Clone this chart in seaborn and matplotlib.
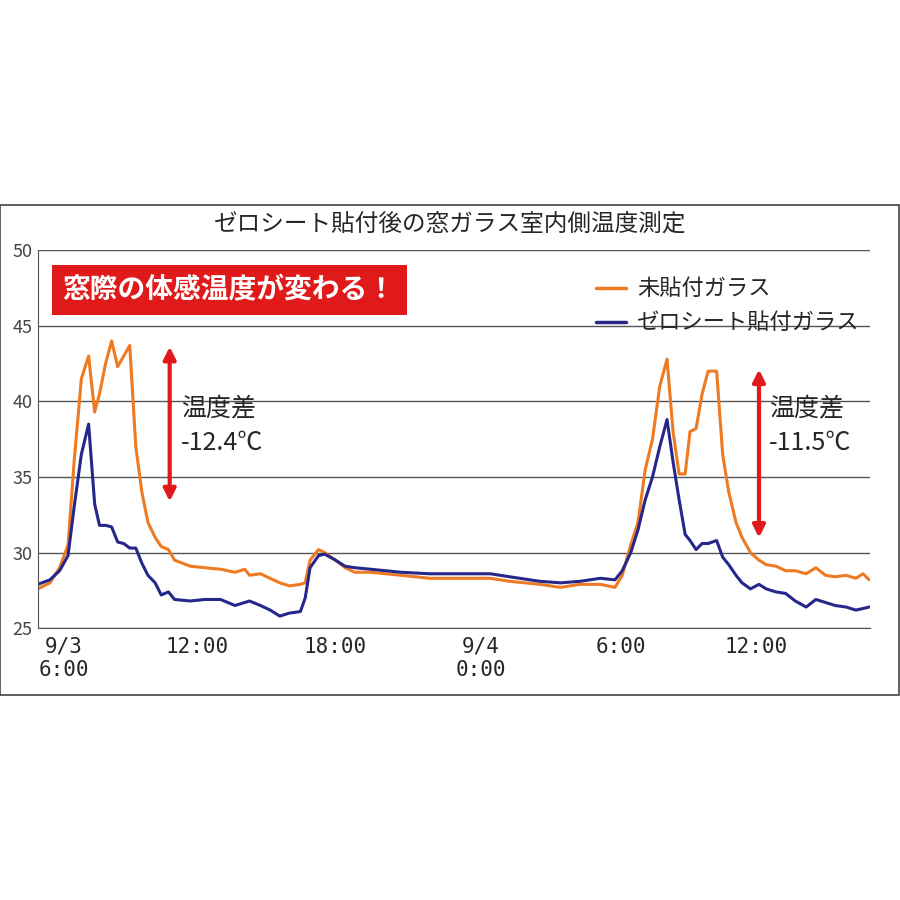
import matplotlib
matplotlib.use('Agg')
import matplotlib.pyplot as plt
import seaborn as sns
import pandas as pd
from matplotlib.patches import Rectangle

hours = [0, 0.5, 0.9, 1.25, 1.5, 1.8, 2.1, 2.35, 2.55, 2.8, 3.05, 3.3, 3.55, 3.8, 4.05, 4.3, 4.55, 4.85,
         5.1, 5.4, 5.65, 6.3, 6.9, 7.55, 8.15, 8.55, 8.75, 9.2, 9.6, 10.0, 10.4, 10.85, 11.05, 11.25,
         11.6, 11.85, 12.3, 12.7, 13.1, 13.75, 15.0, 16.2, 17.45, 18.7, 19.5, 20.75, 21.6, 22.4, 23.25,
         23.85, 24.15, 24.5, 24.8, 25.1, 25.4, 25.7, 26.0, 26.25, 26.5, 26.75, 26.95, 27.2, 27.45, 27.7,
         28.05, 28.3, 28.55, 28.85, 29.1, 29.45, 29.8, 30.1, 30.5, 30.9, 31.3, 31.75, 32.15, 32.55,
         32.95, 33.4, 33.8, 34.1, 34.35]
plain_glass = [27.6, 28.0, 29.0, 30.5, 36.0, 41.5, 43.0, 39.3, 40.5, 42.5, 44.0, 42.3, 43.0, 43.7, 37.0,
               34.0, 32.0, 31.0, 30.4, 30.2, 29.5, 29.1, 29.0, 28.9, 28.7, 28.9, 28.5, 28.6, 28.3, 28.0,
               27.8, 27.9, 28.0, 29.5, 30.2, 30.0, 29.5, 29.0, 28.7, 28.7, 28.5, 28.3, 28.3, 28.3, 28.1,
               27.9, 27.7, 27.9, 27.9, 27.7, 28.5, 30.5, 32.0, 35.5, 37.5, 41.0, 42.8, 38.0, 35.2, 35.2,
               38.0, 38.2, 40.5, 42.0, 42.0, 36.5, 34.0, 32.0, 31.0, 30.0, 29.5, 29.2, 29.1, 28.8, 28.8,
               28.6, 29.0, 28.5, 28.4, 28.5, 28.3, 28.6, 28.2]
zero_sheet = [27.9, 28.2, 28.8, 29.8, 33.0, 36.5, 38.5, 33.2, 31.8, 31.8, 31.7, 30.7, 30.6, 30.3, 30.3,
              29.3, 28.5, 28.0, 27.2, 27.4, 26.9, 26.8, 26.9, 26.9, 26.5, 26.7, 26.8, 26.5, 26.2, 25.8,
              26.0, 26.1, 27.0, 29.0, 29.8, 29.9, 29.5, 29.1, 29.0, 28.9, 28.7, 28.6, 28.6, 28.6, 28.4,
              28.1, 28.0, 28.1, 28.3, 28.2, 28.8, 30.0, 31.5, 33.5, 35.0, 37.0, 38.8, 36.0, 33.5, 31.2,
              30.8, 30.2, 30.6, 30.6, 30.8, 29.7, 29.2, 28.5, 28.0, 27.6, 27.9, 27.6, 27.4, 27.3, 26.8,
              26.4, 26.9, 26.7, 26.5, 26.4, 26.2, 26.3, 26.4]
series_names = ['未貼付ガラス', 'ゼロシート貼付ガラス']
tick_pos = [1.07, 6.6, 12.3, 18.3, 24.1, 29.7]
tick_labels = ['9/3\n6:00', '12:00', '18:00', '9/4\n0:00', '6:00', '12:00']

sns.set_style('white')
plt.rcParams['font.family'] = ['Noto Sans CJK JP', 'DejaVu Sans']

df = pd.DataFrame({'h': hours * 2, 'temp': plain_glass + zero_sheet,
                   'kind': [series_names[0]] * len(hours) + [series_names[1]] * len(hours)})

fig = plt.figure(figsize=(9, 9), dpi=100)
fig.patches.append(Rectangle((0.0, 0.228), 0.999, 0.544, transform=fig.transFigure,
                             fill=False, edgecolor='#444444', lw=1.2))
ax = fig.add_axes([0.042, 0.302, 0.925, 0.42])
sns.lineplot(data=df, x='h', y='temp', hue='kind', palette=['#ee7a22', '#25278a'],
             lw=2.2, ax=ax, legend=False)
ax.set_xlim(0, 34.4)
ax.set_ylim(25, 50)
ax.set_yticks([25, 30, 35, 40, 45, 50])
ax.yaxis.grid(True, color='#555555', lw=1)
for s in ['top', 'right']:
    ax.spines[s].set_visible(False)
ax.spines['left'].set_color('#555555')
ax.spines['bottom'].set_color('#555555')
ax.set_xticks(tick_pos)
ax.set_xticklabels(tick_labels, fontsize=15, family='DejaVu Sans Mono')
ax.tick_params(axis='y', labelsize=13, colors='#444444', length=0, pad=4)
ax.tick_params(axis='x', length=0, pad=6)
ax.set_xlabel('')
ax.set_ylabel('')

fig.text(0.5, 0.75, 'ゼロシート貼付後の窓ガラス室内側温度測定', ha='center', va='center', fontsize=17)
ax.text(0.03, 0.895, '窓際の体感温度が変わる！', transform=ax.transAxes, fontsize=20,
        color='white', fontweight='bold', va='center',
        bbox=dict(boxstyle='square,pad=0.4', fc='#e01a1a', ec='none'))

for i, (name, c) in enumerate(zip(series_names, ['#ee7a22', '#25278a'])):
    y = 0.9 - i * 0.09
    ax.plot([0.671, 0.706], [y, y], color=c, lw=2.5, transform=ax.transAxes)
    ax.text(0.72, y, name, transform=ax.transAxes, fontsize=16, va='center')

arrow = dict(arrowstyle='<|-|>', color='#e01a1a', lw=3, mutation_scale=18)
ax.annotate('', xy=(5.45, 43.8), xytext=(5.45, 33.2), arrowprops=arrow)
ax.annotate('', xy=(29.8, 42.3), xytext=(29.8, 30.8), arrowprops=arrow)
ax.text(5.9, 38.4, '温度差\n-12.4℃', fontsize=18, va='center', linespacing=1.4)
ax.text(30.2, 38.4, '温度差\n-11.5℃', fontsize=18, va='center', linespacing=1.4)

fig.savefig('out.png', dpi=100, facecolor='white')
